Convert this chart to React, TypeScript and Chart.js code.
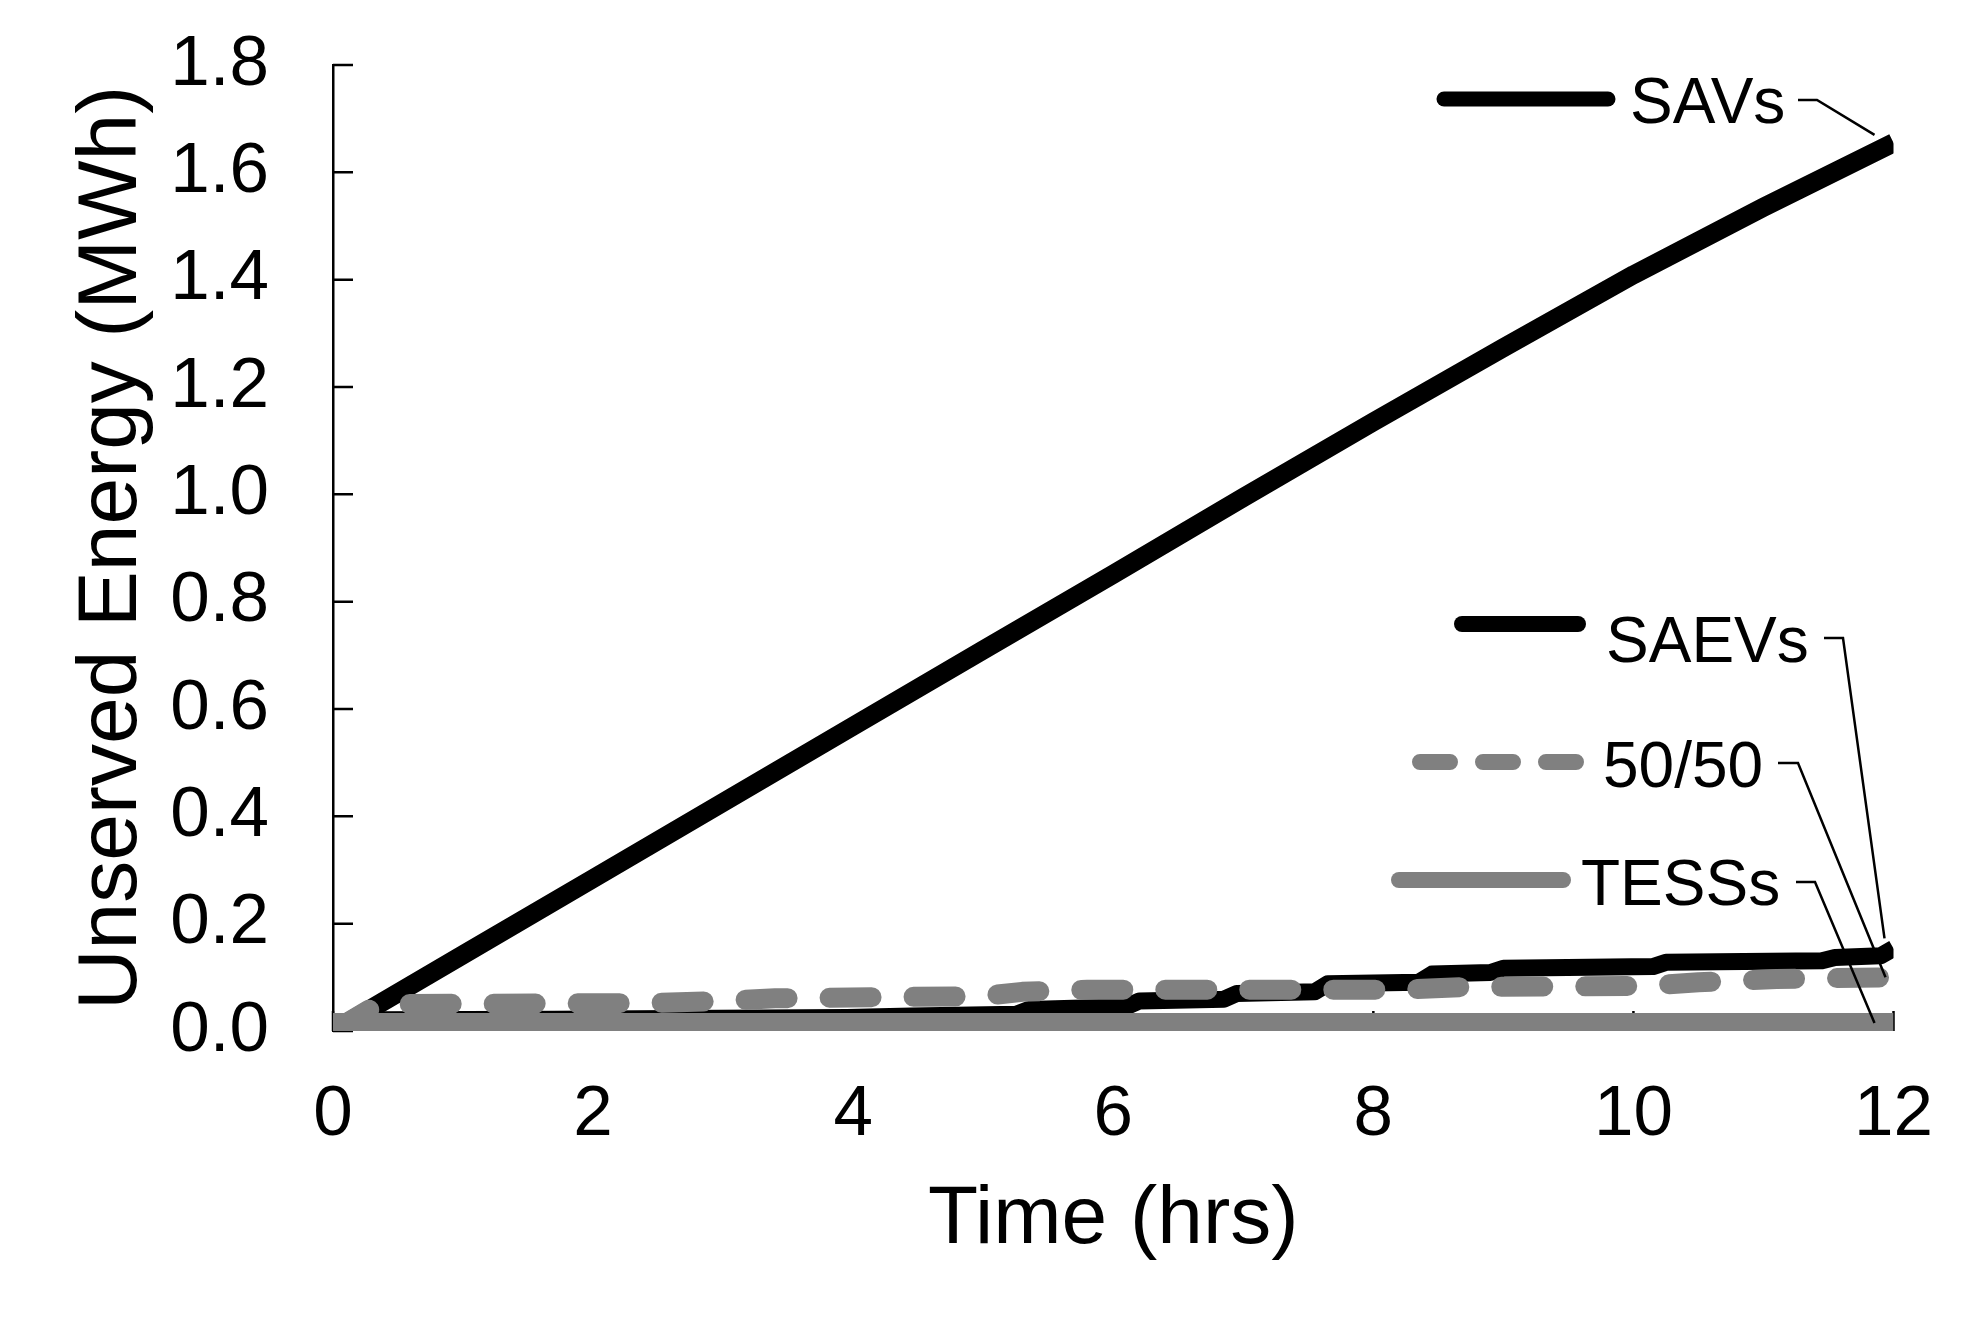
import React, { useEffect, useRef } from 'react';
import { Chart, registerables } from 'chart.js';

Chart.register(...registerables);

// series names (shown as labels next to the line ends)
const seriesNames = ['SAVs', 'SAEVs', '50/50', 'TESSs'];

// SAVs
const savsHours = [0, 1, 2, 3, 4, 5, 6, 7, 8, 9, 10, 11, 12];
const savsEnergy = [0, 0.142, 0.284, 0.426, 0.568, 0.71, 0.851, 0.994, 1.135, 1.273, 1.409, 1.535, 1.655];

// SAEVs
const saevsHours = [0, 0.35, 1.7, 3.95, 4.45, 5.25, 5.35, 6.1, 6.2, 6.85, 6.95, 7.55, 7.65, 8.35, 8.45, 8.9, 9.0, 10.15, 10.25, 11.45, 11.55, 11.9, 12];
const saevsEnergy = [0, 0.021, 0.022, 0.025, 0.028, 0.031, 0.04, 0.045, 0.056, 0.059, 0.07, 0.073, 0.088, 0.091, 0.106, 0.109, 0.117, 0.12, 0.128, 0.131, 0.137, 0.14, 0.154];

// 50/50
const mixHours = [0, 0.35, 2.4, 3.0, 3.4, 5.0, 5.3, 5.8, 8.2, 8.7, 10.1, 10.5, 11.1, 12];
const mixEnergy = [0, 0.05, 0.052, 0.056, 0.061, 0.065, 0.073, 0.077, 0.077, 0.082, 0.084, 0.091, 0.097, 0.1];

// TESSs
const tessHours = [0, 12];
const tessEnergy = [0, 0];

// axis ticks
const xTicks = [0, 2, 4, 6, 8, 10, 12];
const yTicks = [0, 0.2, 0.4, 0.6, 0.8, 1.0, 1.2, 1.4, 1.6, 1.8];

const FONT = "'Liberation Sans', Arial, Helvetica, sans-serif";
const GRAY = '#808080';

const toPoints = (xs: number[], ys: number[]) => xs.map((x, i) => ({ x, y: ys[i] }));

// label block next to each series: sample line, name, elbow leader to the series end
const labelLayout = [
  { from: 1444, to: 1608, y: 99, width: 15, color: '#000', dash: [] as number[], textX: 1630, baseline: 123, elbow: [1798, 1817, 100], off: [-19, -8] },
  { from: 1462, to: 1578, y: 624, width: 16, color: '#000', dash: [] as number[], textX: 1606, baseline: 662, elbow: [1824, 1843, 638], off: [-9, -10] },
  { from: 1420, to: 1576, y: 762, width: 16, color: GRAY, dash: [30, 33], textX: 1603, baseline: 787, elbow: [1778, 1798, 763], off: [-8, 0] },
  { from: 1399, to: 1563, y: 880, width: 16, color: GRAY, dash: [] as number[], textX: 1581, baseline: 905, elbow: [1796, 1815, 882], off: [-19, -8] },
];

const insideTicks = {
  id: 'insideTicks',
  beforeDatasetsDraw(chart: any) {
    const { ctx, chartArea, scales } = chart;
    ctx.save();
    ctx.strokeStyle = '#000';
    ctx.lineWidth = 2.5;
    ctx.beginPath();
    yTicks.forEach((v) => {
      const y = scales.y.getPixelForValue(v);
      ctx.moveTo(chartArea.left, y);
      ctx.lineTo(chartArea.left + 20, y);
    });
    xTicks.forEach((v) => {
      const x = scales.x.getPixelForValue(v);
      ctx.moveTo(x, chartArea.bottom);
      ctx.lineTo(x, chartArea.bottom - 20);
    });
    ctx.stroke();
    ctx.restore();
  },
};

const seriesLabels = {
  id: 'seriesLabels',
  afterDatasetsDraw(chart: any) {
    const { ctx } = chart;
    ctx.save();
    labelLayout.forEach((l, i) => {
      // sample line
      ctx.beginPath();
      ctx.strokeStyle = l.color;
      ctx.lineWidth = l.width;
      ctx.lineCap = 'round';
      ctx.setLineDash(l.dash);
      ctx.moveTo(l.from, l.y);
      ctx.lineTo(l.to, l.y);
      ctx.stroke();
      ctx.setLineDash([]);
      // name
      ctx.fillStyle = '#000';
      ctx.font = `64px ${FONT}`;
      ctx.textAlign = 'left';
      ctx.textBaseline = 'alphabetic';
      ctx.fillText(seriesNames[i], l.textX, l.baseline);
      // leader to the last point of the series
      const meta = chart.getDatasetMeta(i);
      const last = meta.data[meta.data.length - 1];
      ctx.beginPath();
      ctx.strokeStyle = '#000';
      ctx.lineWidth = 2.5;
      ctx.lineCap = 'butt';
      ctx.moveTo(l.elbow[0], l.elbow[2]);
      ctx.lineTo(l.elbow[1], l.elbow[2]);
      ctx.lineTo(last.x + l.off[0], last.y + l.off[1]);
      ctx.stroke();
    });
    ctx.restore();
  },
};

export default function App() {
  const canvasRef = useRef<HTMLCanvasElement>(null);
  const chartRef = useRef<Chart | null>(null);

  useEffect(() => {
    if (!canvasRef.current) return;
    const ctx = canvasRef.current.getContext('2d');
    if (!ctx) return;
    if (chartRef.current) chartRef.current.destroy();
    Chart.defaults.color = '#000';
    chartRef.current = new Chart(ctx, {
      type: 'line',
      data: {
        datasets: [
          {
            label: seriesNames[0],
            data: toPoints(savsHours, savsEnergy),
            borderColor: '#000',
            borderWidth: 19,
            order: 4,
          },
          {
            label: seriesNames[1],
            data: toPoints(saevsHours, saevsEnergy),
            borderColor: '#000',
            borderWidth: 17,
            order: 3,
          },
          {
            label: seriesNames[2],
            data: toPoints(mixHours, mixEnergy),
            borderColor: GRAY,
            borderWidth: 20,
            borderDash: [42, 42],
            borderCapStyle: 'round',
            order: 2,
          },
          {
            label: seriesNames[3],
            data: toPoints(tessHours, tessEnergy),
            borderColor: GRAY,
            borderWidth: 36,
            order: 1,
          },
        ],
      },
      options: {
        animation: false,
        responsive: true,
        maintainAspectRatio: false,
        layout: { padding: { left: 0, top: 65, right: 80, bottom: 0 } },
        elements: {
          point: { radius: 0, hoverRadius: 0 },
          line: { tension: 0, fill: false, borderJoinStyle: 'round' },
        },
        datasets: { line: { clip: 0 } },
        plugins: {
          legend: { display: false },
          tooltip: { enabled: false },
        },
        scales: {
          x: {
            type: 'linear',
            min: 0,
            max: 12,
            afterBuildTicks: (scale: any) => {
              scale.ticks = xTicks.map((v) => ({ value: v }));
            },
            afterFit: (scale: any) => {
              scale.height = 292;
            },
            grid: { display: false, drawTicks: false },
            border: { display: false },
            ticks: {
              padding: 42,
              font: { family: FONT, size: 71 },
              color: '#000',
              maxRotation: 0,
              autoSkip: false,
            },
            title: {
              display: true,
              text: 'Time (hrs)',
              font: { family: FONT, size: 82 },
              color: '#000',
              padding: { top: 0, bottom: 53 },
            },
          },
          y: {
            type: 'linear',
            min: 0,
            max: 1.8,
            afterBuildTicks: (scale: any) => {
              scale.ticks = yTicks.map((v) => ({ value: v }));
            },
            afterFit: (scale: any) => {
              scale.width = 333;
              scale.paddingTop = 0;
              scale.paddingBottom = 0;
            },
            grid: { display: false, drawTicks: false },
            border: { display: true, color: '#000', width: 2.5 },
            ticks: {
              padding: 64,
              font: { family: FONT, size: 71 },
              color: '#000',
              autoSkip: false,
              callback: (v: any) => Number(v).toFixed(1),
            },
            title: {
              display: true,
              text: 'Unserved Energy (MWh)',
              font: { family: FONT, size: 84 },
              color: '#000',
              padding: { top: 62, bottom: 0 },
            },
          },
        },
      },
      plugins: [insideTicks, seriesLabels],
    } as any);
    return () => {
      if (chartRef.current) chartRef.current.destroy();
      chartRef.current = null;
    };
  }, []);

  return (
    <div style={{ position: 'fixed', left: 0, top: 0, width: '1975px', height: '1323px', background: '#fff' }}>
      <canvas ref={canvasRef}></canvas>
    </div>
  );
}
